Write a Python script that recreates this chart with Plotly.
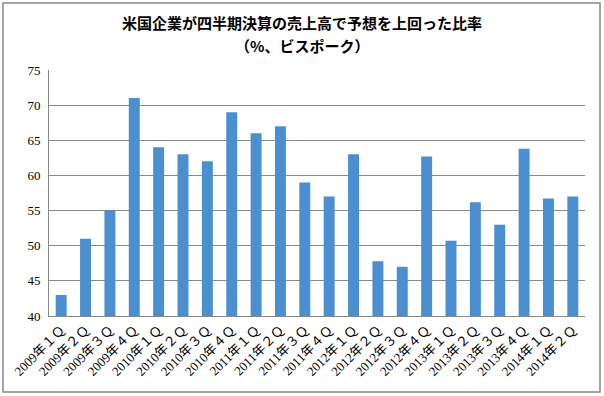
import plotly.graph_objects as go

categories = [
    "2009年１Ｑ", "2009年２Ｑ", "2009年３Ｑ", "2009年４Ｑ",
    "2010年１Ｑ", "2010年２Ｑ", "2010年３Ｑ", "2010年４Ｑ",
    "2011年１Ｑ", "2011年２Ｑ", "2011年３Ｑ", "2011年４Ｑ",
    "2012年１Ｑ", "2012年２Ｑ", "2012年３Ｑ", "2012年４Ｑ",
    "2013年１Ｑ", "2013年２Ｑ", "2013年３Ｑ", "2013年４Ｑ",
    "2014年１Ｑ", "2014年２Ｑ",
]
values = [43, 51, 55, 71, 64, 63, 62, 69, 66, 67, 59, 57,
          63, 47.8, 47, 62.7, 50.7, 56.2, 53, 63.8, 56.7, 57]
y_ticks = [40, 45, 50, 55, 60, 65, 70, 75]

title_line1 = "米国企業が四半期決算の売上高で予想を上回った比率"
title_line2 = "（%、ビスポーク）"

fig = go.Figure()
fig.add_trace(go.Bar(
    x=categories, y=values,
    marker=dict(color="#4b8fd1", line=dict(width=0)),
    width=0.45,
))

W, H = 604, 396
ml, mr, mt, mb = 49, 19, 70, 80
pw, ph = W - ml - mr, H - mt - mb


def py(px):
    return (H - mb - px) / ph


title_font = dict(family="Noto Sans CJK JP", size=15, color="black", weight="bold")

fig.update_layout(
    width=W, height=H,
    margin=dict(l=ml, r=mr, t=mt, b=mb, autoexpand=False),
    paper_bgcolor="white", plot_bgcolor="white",
    showlegend=False,
    xaxis=dict(
        type="category", tickangle=-45, automargin=False,
        tickfont=dict(family="Liberation Serif, Noto Sans CJK JP", size=13, color="black"),
        showgrid=False, showline=True, linecolor="#888888", ticks="",
        range=[-0.5, len(categories) - 0.5],
    ),
    yaxis=dict(
        range=[40, 75], tickvals=y_ticks, automargin=False,
        tickfont=dict(family="Liberation Serif", size=13, color="black"),
        showgrid=True, gridcolor="#8a8a8a", gridwidth=1,
        showline=True, linecolor="#888888", ticks="", zeroline=False,
        ticklabelstandoff=5,
    ),
    annotations=[
        dict(text=title_line1, xref="paper", yref="paper", x=(302 - ml) / pw, y=py(22),
             xanchor="center", yanchor="middle", showarrow=False, font=title_font),
        dict(text=title_line2, xref="paper", yref="paper", x=(302 - ml) / pw, y=py(45),
             xanchor="center", yanchor="middle", showarrow=False, font=title_font),
    ],
    shapes=[dict(
        type="rect", xref="paper", yref="paper",
        x0=(3 - ml) / pw, x1=(600 - ml) / pw,
        y0=py(392), y1=py(3),
        line=dict(color="#888888", width=1.5), fillcolor="rgba(0,0,0,0)",
    )],
)

fig.write_html("out.html", config={"displayModeBar": False},
               post_script="document.body.style.margin='0';")
